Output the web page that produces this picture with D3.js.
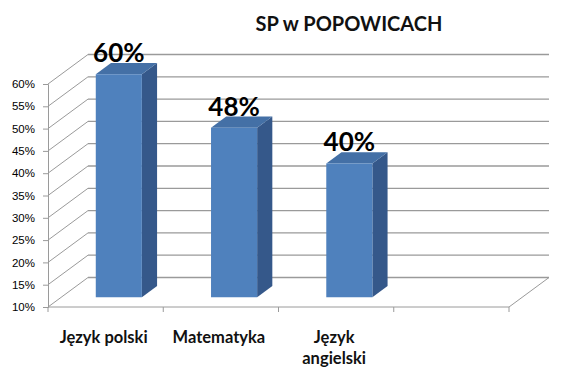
<!DOCTYPE html>
<html>
<head>
<meta charset="utf-8">
<script src="https://cdn.jsdelivr.net/npm/d3@7"></script>
<style>
  body { margin: 0; background: #fff; }
  svg { display: block; font-family: Lato, "Open Sans", sans-serif; }
</style>
</head>
<body>
<svg id="chart" width="582" height="379"></svg>
<script>
var title = "SP w POPOWICACH";
var categories = ["Język polski", "Matematyka", "Język angielski", ""];
var catLines = [["Język polski"], ["Matematyka"], ["Język", "angielski"], []];
var values = [0.60, 0.48, 0.40, null];
var yTicks = [0.10, 0.15, 0.20, 0.25, 0.30, 0.35, 0.40, 0.45, 0.50, 0.55, 0.60];

var svg = d3.select("#chart");

// front plane scales
var x = d3.scaleBand().domain(categories).range([48, 509]).padding(0);
var y = d3.scaleLinear().domain([0.10, 0.60]).range([307, 84]);

// depth projection (0 = front, 1 = back wall)
var depthX = 40, depthY = -29.5;
function proj(px, py, d) { return [px + depthX * d, py + depthY * d]; }

var gridColor = "#9a9a9a";

// back wall gridlines + left wall diagonals
var grid = svg.append("g");
yTicks.forEach(function(t) {
  var f = proj(x.range()[0], y(t), 0);
  var b = proj(x.range()[0], y(t), 1);
  var e = proj(x.range()[1], y(t), 1);
  grid.append("line").attr("x1", f[0]).attr("y1", f[1]).attr("x2", b[0]).attr("y2", b[1])
    .attr("stroke", gridColor);
  grid.append("line").attr("x1", b[0]).attr("y1", b[1]).attr("x2", e[0]).attr("y2", e[1])
    .attr("stroke", gridColor).attr("stroke-width", 1.3);
});
// floor right edge
var fr = proj(x.range()[1], y(0.10), 0), br = proj(x.range()[1], y(0.10), 1);
grid.append("line").attr("x1", fr[0]).attr("y1", fr[1]).attr("x2", br[0]).attr("y2", br[1])
  .attr("stroke", gridColor);

// y axis
var yAxis = d3.axisLeft(y).tickValues(yTicks).tickSize(5).tickFormat(d3.format(".0%"));
var gy = svg.append("g").attr("transform", "translate(48,0)").call(yAxis);
gy.select(".domain").attr("stroke", gridColor);
gy.selectAll(".tick line").attr("stroke", gridColor);
gy.selectAll(".tick text").attr("font-size", 11.5).attr("fill", "#000").attr("x", -13);

// x axis
var gx = svg.append("g");
gx.append("line").attr("x1", x.range()[0]).attr("x2", x.range()[1])
  .attr("y1", y(0.10)).attr("y2", y(0.10)).attr("stroke", gridColor);
categories.concat(["__end"]).forEach(function(c, i) {
  var px = i < categories.length ? x(c) : x.range()[1];
  gx.append("line").attr("x1", px).attr("x2", px).attr("y1", y(0.10)).attr("y2", y(0.10) + 5)
    .attr("stroke", gridColor);
});
categories.forEach(function(c, i) {
  var t = gx.append("text").attr("text-anchor", "middle").attr("font-weight", "bold")
    .attr("font-size", 16.5).attr("fill", "#111");
  catLines[i].forEach(function(line, j) {
    t.append("tspan").attr("x", x(c) + x.bandwidth() / 2 - 2).attr("y", 343 + j * 21).text(line);
  });
});

// bars
var d0 = 0.33, d1 = 0.71, barW = 0.4 * x.bandwidth();
var bars = svg.append("g");
categories.forEach(function(c, i) {
  var v = values[i];
  if (v == null) return;
  var cx = x(c) + x.bandwidth() / 2;
  var xl = cx - barW / 2, xr = cx + barW / 2;
  var yb = y(0.10), yt = y(v);
  var A = proj(xl, yt, d0), B = proj(xr, yt, d0), C = proj(xr, yb, d0), D = proj(xl, yb, d0);
  var B1 = proj(xr, yt, d1), C1 = proj(xr, yb, d1), A1 = proj(xl, yt, d1);
  var poly = function(pts) { return "M" + pts.map(function(p) { return p.join(","); }).join("L") + "Z"; };
  bars.append("path").attr("d", poly([B, B1, C1, C])).attr("fill", "#35588a");
  bars.append("path").attr("d", poly([A, A1, B1, B])).attr("fill", "#4470a6");
  bars.append("path").attr("d", poly([A, B, C, D])).attr("fill", "#4f81bd");
  bars.append("text").attr("x", (A[0] + B[0]) / 2).attr("y", A[1] - 12)
    .attr("text-anchor", "middle").attr("font-size", 26).attr("font-weight", "bold")
    .attr("fill", "#000").text(d3.format(".0%")(v));
});

// title
svg.append("text").attr("x", 349).attr("y", 31).attr("text-anchor", "middle")
  .attr("font-weight", "bold").attr("font-size", 20).attr("fill", "#111").text(title);
</script>
</body>
</html>
